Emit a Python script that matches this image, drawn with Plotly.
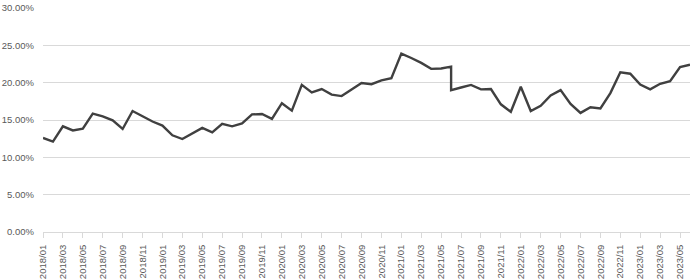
import plotly.graph_objects as go

# Month labels (2021/06 appears twice in the source data, giving the vertical drop)
months = [
    "2018/01", "2018/02", "2018/03", "2018/04", "2018/05", "2018/06",
    "2018/07", "2018/08", "2018/09", "2018/10", "2018/11", "2018/12",
    "2019/01", "2019/02", "2019/03", "2019/04", "2019/05", "2019/06",
    "2019/07", "2019/08", "2019/09", "2019/10", "2019/11", "2019/12",
    "2020/01", "2020/02", "2020/03", "2020/04", "2020/05", "2020/06",
    "2020/07", "2020/08", "2020/09", "2020/10", "2020/11", "2020/12",
    "2021/01", "2021/02", "2021/03", "2021/04", "2021/05", "2021/06",
    "2021/06", "2021/07", "2021/08", "2021/09", "2021/10", "2021/11",
    "2021/12", "2022/01", "2022/02", "2022/03", "2022/04", "2022/05",
    "2022/06", "2022/07", "2022/08", "2022/09", "2022/10", "2022/11",
    "2022/12", "2023/01", "2023/02", "2023/03", "2023/04", "2023/05",
    "2023/06",
]

values = [
    12.6, 12.1, 14.15, 13.6, 13.85, 15.85,
    15.5, 14.95, 13.8, 16.2, 15.5, 14.8,
    14.25, 12.95, 12.45, 13.25, 13.95, 13.35,
    14.5, 14.15, 14.55, 15.75, 15.8, 15.15,
    17.25, 16.25, 19.7, 18.7, 19.15, 18.4,
    18.2, 19.1, 19.95, 19.8, 20.3, 20.6,
    23.9, 23.3, 22.65, 21.85, 21.9, 22.15,
    19.0, 19.35, 19.7, 19.1, 19.15, 17.1,
    16.1, 19.45, 16.2, 16.9, 18.3, 19.0,
    17.15, 15.95, 16.7, 16.55, 18.6, 21.4,
    21.2, 19.75, 19.1, 19.85, 20.2, 22.1,
    22.4,
]

y_ticks = [0, 5, 10, 15, 20, 25, 30]

unique_months = list(dict.fromkeys(months))
x_tick_labels = unique_months[::2]

fig = go.Figure(
    go.Scatter(
        x=months,
        y=[v / 100 for v in values],
        mode="lines",
        line=dict(color="#404040", width=2.4),
        hoverinfo="skip",
    )
)

font = dict(family="Liberation Sans, Arial, sans-serif", size=9.5, color="#595959")

fig.update_layout(
    width=700,
    height=280,
    margin=dict(l=43, r=10, t=8, b=48),
    paper_bgcolor="white",
    plot_bgcolor="white",
    showlegend=False,
    font=font,
    xaxis=dict(
        type="category",
        categoryorder="array",
        categoryarray=unique_months,
        range=[0, len(unique_months) - 1],
        tickmode="array",
        tickvals=x_tick_labels,
        ticktext=x_tick_labels,
        tickangle=-90,
        ticks="outside",
        ticklen=5,
        tickcolor="#d9d9d9",
        ticklabelstandoff=3,
        showgrid=False,
        showline=True,
        linecolor="#d9d9d9",
        linewidth=1,
        zeroline=False,
        automargin=False,
        tickfont=font,
    ),
    yaxis=dict(
        range=[0, 0.30],
        tickmode="array",
        tickvals=[t / 100 for t in y_ticks],
        tickformat=".2%",
        showgrid=True,
        gridcolor="#d9d9d9",
        gridwidth=1,
        zeroline=False,
        showline=False,
        ticks="",
        ticklabelstandoff=8,
        automargin=False,
        tickfont=font,
    ),
)

fig.write_html("out.html")
